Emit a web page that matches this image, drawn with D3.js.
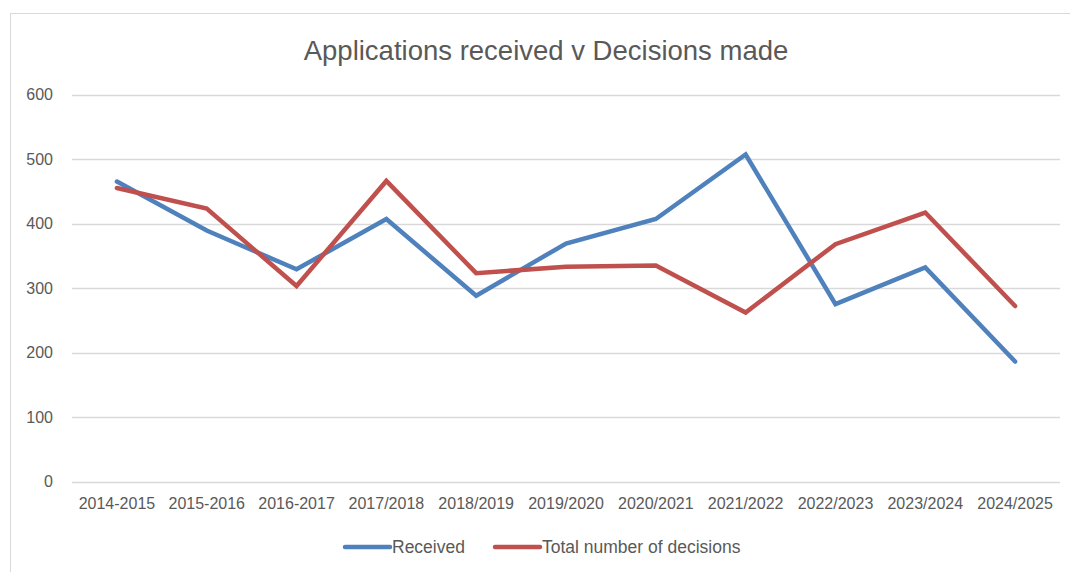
<!DOCTYPE html>
<html>
<head>
<meta charset="utf-8">
<script src="https://cdn.jsdelivr.net/npm/d3@7"></script>
<style>
  body { margin: 0; background: #fff; }
  text { font-family: "Liberation Sans", Arial, sans-serif; fill: #595959; }
</style>
</head>
<body>
<div id="chart"></div>
<script>
// data
var years = ['2014-2015', '2015-2016', '2016-2017', '2017/2018', '2018/2019', '2019/2020',
  '2020/2021', '2021/2022', '2022/2023', '2023/2024', '2024/2025'];
var received = [465, 389, 329, 407, 288, 369, 407, 507, 275, 332, 186];
var decisions = [455, 423, 303, 466, 323, 333, 335, 262, 368, 417, 272];
var yTicks = [0, 100, 200, 300, 400, 500, 600];

var series = [
  { name: 'Received', values: received, color: '#4F81BD' },
  { name: 'Total number of decisions', values: decisions, color: '#C0504D' }
];

var width = 1070, height = 572;
var svg = d3.select('#chart').append('svg')
    .attr('width', width)
    .attr('height', height);

// chart border
svg.append('rect')
    .attr('x', 10.5).attr('y', 13.5)
    .attr('width', 1080).attr('height', 580)
    .attr('fill', 'none')
    .attr('stroke', '#d9d9d9');

svg.append('text')
    .attr('x', 546)
    .attr('y', 60)
    .attr('text-anchor', 'middle')
    .style('font-size', '27.5px')
    .text('Applications received v Decisions made');

var xScale = d3.scaleBand()
    .domain(years)
    .range([72, 1060]);

var yScale = d3.scaleLinear()
    .domain([0, 600])
    .range([481.5, 94.5]);

// gridlines
svg.append('g').selectAll('line')
    .data(yTicks)
    .enter().append('line')
    .attr('x1', 72).attr('x2', 1060)
    .attr('y1', d => Math.round(yScale(d)) + 0.5)
    .attr('y2', d => Math.round(yScale(d)) + 0.5)
    .attr('stroke', '#d9d9d9')
    .attr('stroke-width', 1.5);

// y axis labels
var yAxis = svg.append('g')
    .attr('transform', 'translate(72,0)')
    .call(d3.axisLeft(yScale).tickValues(yTicks).tickSize(0).tickPadding(19));
yAxis.select('.domain').remove();
yAxis.selectAll('text')
    .style('font-size', '16px')
    .style('font-family', '"Liberation Sans", Arial, sans-serif')
    .attr('fill', '#595959');

// x axis labels
var xAxis = svg.append('g')
    .attr('transform', 'translate(0,482)')
    .call(d3.axisBottom(xScale).tickSize(0).tickPadding(16));
xAxis.select('.domain').remove();
xAxis.selectAll('text')
    .style('font-size', '16px')
    .style('font-family', '"Liberation Sans", Arial, sans-serif')
    .attr('fill', '#595959');

var line = d3.line()
    .x((d, i) => xScale(years[i]) + xScale.bandwidth() / 2)
    .y(d => yScale(d));

svg.append('g').selectAll('path')
    .data(series)
    .enter().append('path')
    .attr('d', d => line(d.values))
    .attr('fill', 'none')
    .attr('stroke', d => d.color)
    .attr('stroke-width', 4.5)
    .attr('stroke-linejoin', 'miter')
    .attr('stroke-linecap', 'round');

// legend
var legendX = [345, 495];
var legend = svg.append('g').selectAll('g')
    .data(series)
    .enter().append('g')
    .attr('transform', (d, i) => 'translate(' + legendX[i] + ',547)');
legend.append('line')
    .attr('x1', 0).attr('x2', 45)
    .attr('stroke', d => d.color)
    .attr('stroke-width', 4.5)
    .attr('stroke-linecap', 'round');
legend.append('text')
    .attr('x', 47)
    .attr('y', 6)
    .style('font-size', '17.5px')
    .text(d => d.name);
</script>
</body>
</html>
